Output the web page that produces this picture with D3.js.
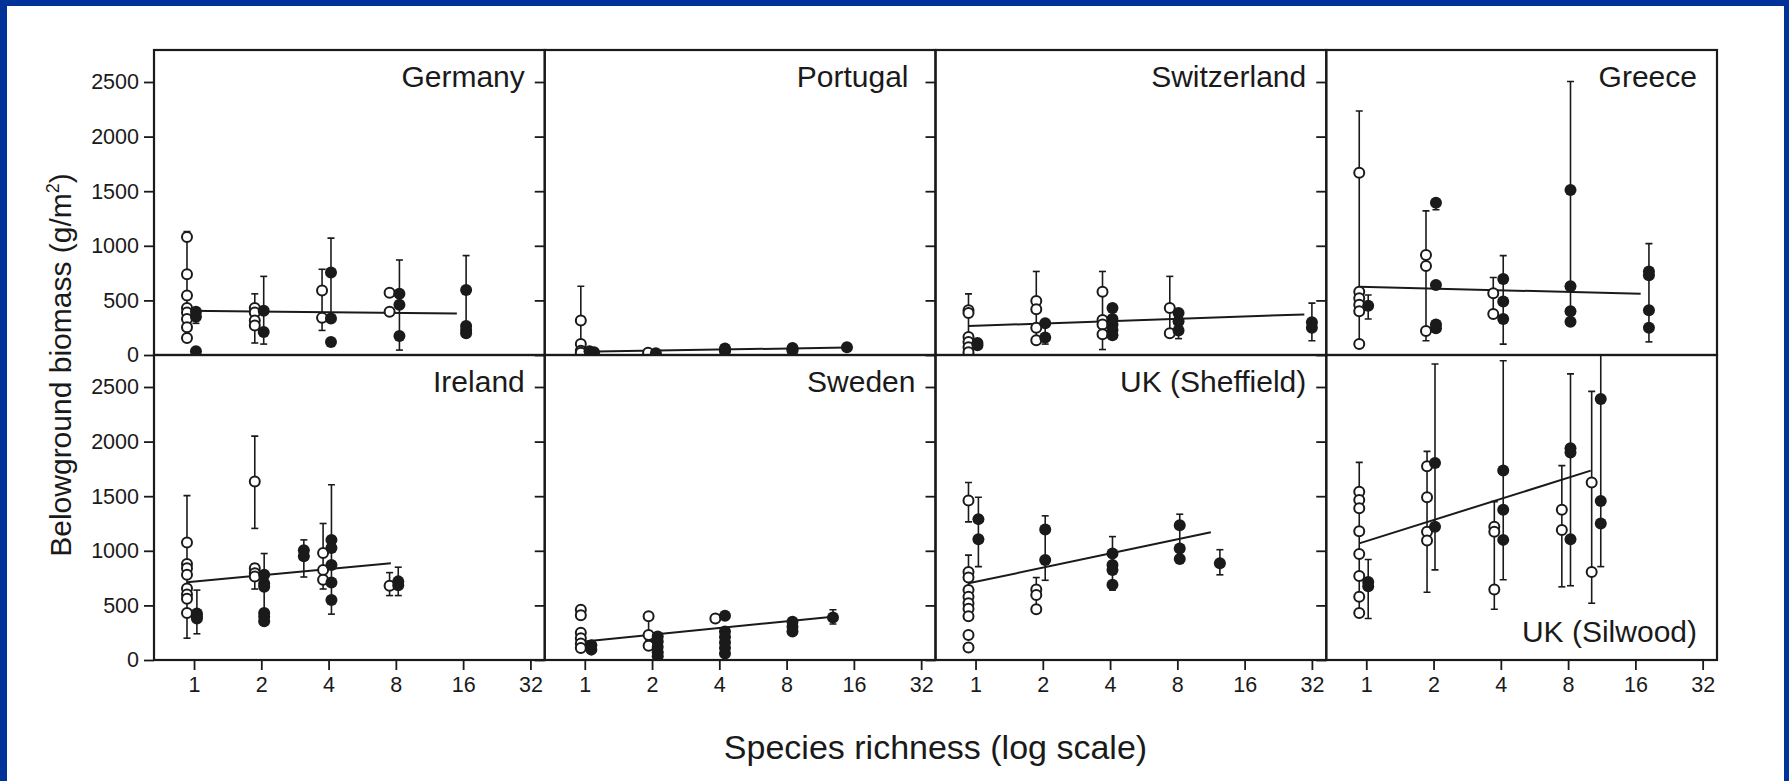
<!DOCTYPE html>
<html><head><meta charset="utf-8">
<script src="https://cdn.jsdelivr.net/npm/d3@7"></script>
<style>
body{margin:0;background:#003399;}
svg{display:block;}
text{font-family:"Liberation Sans",Arial,Helvetica,sans-serif;fill:#1a1a1a;}
</style>
</head><body>
<svg id="chart" width="1789" height="781"></svg>
<script>
// ---------- data ----------
const panelNames = ["Germany","Portugal","Switzerland","Greece","Ireland","Sweden","UK (Sheffield)","UK (Silwood)"];
const xTicks = [1,2,4,8,16,32];
const yTicks = [0,500,1000,1500,2000,2500];
const xTitle = "Species richness (log scale)";
const yTitle = "Belowground biomass (g/m";

// points: [species richness, biomass]; bars: [richness, low, high]; fit: regression line end points
const germanyOpen = [[0.93,1080],[0.93,740],[0.93,545],[0.93,430],[0.93,390],[0.93,330],[0.93,255],[0.93,155],
  [1.87,430],[1.87,390],[1.87,315],[1.87,270],[3.74,590],[3.74,340],[7.5,570],[7.5,395]];
const germanyFilled = [[1.02,395],[1.02,350],[1.02,35],[2.05,405],[2.05,210],[4.1,755],[4.1,335],[4.1,120],
  [8.3,560],[8.3,460],[8.3,175],[16.5,595],[16.5,265],[16.5,230],[16.5,200]];
const germanyBars = [[0.93,130,1130],[1.02,290,430],[1.87,110,560],[2.05,100,720],[3.74,225,785],[4.1,300,1070],[8.3,45,870],[16.5,180,910]];
const germanyFit = [[0.93,405],[15,380]];

const portugalOpen = [[0.96,315],[0.96,100],[0.96,40],[0.96,20],[1.92,20]];
const portugalFilled = [[1.05,35],[1.1,25],[2.08,15],[4.24,60],[4.24,45],[4.24,35],[8.5,65],[8.5,50],[8.5,40],[14.9,70]];
const portugalBars = [[0.96,10,630]];
const portugalFit = [[0.96,30],[14.9,68]];

const switzerlandOpen = [[0.93,410],[0.93,385],[0.93,165],[0.93,120],[0.93,70],[0.93,25],
  [1.87,495],[1.87,420],[1.87,250],[1.87,135],[3.7,580],[3.7,320],[3.7,280],[3.7,190],[7.4,430],[7.4,200]];
const switzerlandFilled = [[1.02,110],[1.02,90],[2.05,290],[2.05,160],[4.1,430],[4.1,330],[4.1,280],[4.1,230],[4.1,180],
  [8.1,385],[8.1,310],[8.1,225],[32,300],[32,250]];
const switzerlandBars = [[0.93,0,560],[1.87,130,765],[2.05,100,300],[3.7,50,765],[4.1,150,450],[7.4,180,720],[8.1,150,400],[32,130,475]];
const switzerlandFit = [[0.93,265],[29.6,372]];

const greeceOpen = [[0.93,1670],[0.93,580],[0.93,520],[0.93,460],[0.93,400],[0.93,100],
  [1.85,915],[1.85,815],[1.85,220],[3.7,565],[3.7,375]];
const greeceFilled = [[1.02,450],[2.05,1395],[2.05,640],[2.05,280],[2.05,245],[4.1,695],[4.1,490],[4.1,330],
  [8.2,1510],[8.2,630],[8.2,400],[8.2,305],[18.4,765],[18.4,730],[18.4,410],[18.4,250]];
const greeceBars = [[0.93,100,2235],[1.02,330,550],[1.85,130,1320],[2.05,1330,1420],[2.05,230,300],[3.7,350,710],[4.1,100,910],[8.2,300,2505],[18.4,120,1020]];
const greeceFit = [[0.93,626],[16.9,560]];

const irelandOpen = [[0.93,1075],[0.93,880],[0.93,840],[0.93,780],[0.93,655],[0.93,600],[0.93,560],[0.93,430],
  [1.87,1635],[1.87,840],[1.87,795],[1.87,765],[3.78,980],[3.78,825],[3.78,735],[7.5,680]];
const irelandFilled = [[1.03,425],[1.03,400],[1.03,380],[2.06,780],[2.06,700],[2.06,670],[2.06,430],[2.06,395],[2.06,355],
  [3.1,1005],[3.1,950],[4.12,1100],[4.12,1025],[4.12,870],[4.12,710],[4.12,550],[8.2,720],[8.2,685]];
const irelandBars = [[0.93,200,1505],[1.03,240,640],[1.87,1205,2050],[1.87,650,880],[2.06,330,975],[3.1,760,1100],
  [3.78,650,1250],[4.12,420,1605],[7.5,590,800],[8.2,590,850]];
const irelandFit = [[0.93,712],[7.6,885]];

const swedenOpen = [[0.96,460],[0.96,410],[0.96,250],[0.96,200],[0.96,150],[0.96,110],[1.93,400],[1.93,230],[1.93,130],[3.84,380]];
const swedenFilled = [[1.07,135],[1.07,95],[2.12,215],[2.12,170],[2.12,120],[2.12,70],[2.12,35],
  [4.24,405],[4.24,260],[4.24,210],[4.24,160],[4.24,110],[4.24,60],[8.5,350],[8.5,305],[8.5,260],[12.9,390]];
const swedenBars = [[1.93,180,420],[12.9,330,460]];
const swedenFit = [[0.97,168],[12.9,397]];

const sheffieldOpen = [[0.93,1460],[0.93,805],[0.93,755],[0.93,640],[0.93,580],[0.93,520],[0.93,470],[0.93,400],[0.93,230],[0.93,115],
  [1.87,645],[1.87,595],[1.87,465]];
const sheffieldFilled = [[1.03,1290],[1.03,1105],[2.05,1195],[2.05,915],[4.1,975],[4.1,870],[4.1,825],[4.1,690],
  [8.2,1235],[8.2,1020],[8.2,925],[12.4,885]];
const sheffieldBars = [[0.93,1265,1625],[0.93,600,960],[1.03,855,1490],[1.87,450,755],[2.05,730,1320],[4.1,640,1130],[8.2,900,1335],[12.4,780,1010]];
const sheffieldFit = [[0.93,702],[11.3,1170]];

const silwoodOpen = [[0.93,1540],[0.93,1465],[0.93,1390],[0.93,1180],[0.93,970],[0.93,770],[0.93,580],[0.93,430],
  [1.87,1775],[1.87,1490],[1.87,1175],[1.87,1095],[3.74,1220],[3.74,1175],[3.74,645],[7.5,1375],[7.5,1190],[10.2,1625],[10.2,805]];
const silwoodFilled = [[1.02,715],[1.02,675],[2.03,1805],[2.03,1220],[4.1,1735],[4.1,1375],[4.1,1100],
  [8.2,1940],[8.2,1900],[8.2,1105],[11.2,2390],[11.2,1455],[11.2,1250]];
const silwoodBars = [[0.93,400,1810],[1.02,380,920],[1.87,620,1910],[2.03,825,2710],[3.74,465,1450],[4.1,735,2740],
  [7.5,670,1780],[8.2,680,2620],[10.2,520,2460],[11.2,855,2800]];
const silwoodFit = [[0.93,1068],[10.1,1734]];

// ---------- assemble ----------
const panels = [
  {name:panelNames[0], open:germanyOpen, filled:germanyFilled, bars:germanyBars, fit:germanyFit},
  {name:panelNames[1], open:portugalOpen, filled:portugalFilled, bars:portugalBars, fit:portugalFit, labelPad:27},
  {name:panelNames[2], open:switzerlandOpen, filled:switzerlandFilled, bars:switzerlandBars, fit:switzerlandFit},
  {name:panelNames[3], open:greeceOpen, filled:greeceFilled, bars:greeceBars, fit:greeceFit},
  {name:panelNames[4], open:irelandOpen, filled:irelandFilled, bars:irelandBars, fit:irelandFit},
  {name:panelNames[5], open:swedenOpen, filled:swedenFilled, bars:swedenBars, fit:swedenFit},
  {name:panelNames[6], open:sheffieldOpen, filled:sheffieldFilled, bars:sheffieldBars, fit:sheffieldFit},
  {name:panelNames[7], open:silwoodOpen, filled:silwoodFilled, bars:silwoodBars, fit:silwoodFit, labelBottom:true}
];

const W = 1789, H = 781;
const gridLeft = 154, gridRight = 1717, gridTop = 50, gridBottom = 660;
const pw = (gridRight - gridLeft) / 4, ph = (gridBottom - gridTop) / 2;
const ink = "#1a1a1a";
const font = '"Liberation Sans",Arial,sans-serif';

const svg = d3.select("#chart");
svg.append("rect").attr("width", W).attr("height", H).attr("fill", "#003399");
svg.append("rect").attr("x", 7).attr("y", 6).attr("width", 1777).attr("height", H - 6).attr("fill", "#ffffff");

const defs = svg.append("defs");

panels.forEach((p, i) => {
  const col = i % 4, row = Math.floor(i / 4);
  const x0 = gridLeft + col * pw, y0 = gridTop + row * ph;
  const x = d3.scaleLog().base(2).domain([0.662, 37.1]).range([0, pw]);
  const y = d3.scaleLinear().domain([0, 2793]).range([ph, 0]);
  const g = svg.append("g").attr("transform", `translate(${x0},${y0})`);

  defs.append("clipPath").attr("id", "clip" + i)
    .append("rect").attr("x", 0).attr("y", 0).attr("width", pw).attr("height", ph);

  // y axis (ticks outward on every panel, labels only in first column)
  const ya = d3.axisLeft(y).tickValues(yTicks).tickSize(10).tickPadding(5)
    .tickFormat(col === 0 ? d3.format("d") : () => "");
  const yg = g.append("g").call(ya);
  yg.select(".domain").remove();
  yg.selectAll("line").attr("stroke", ink).attr("stroke-width", 1.8);
  yg.selectAll("text").attr("font-size", 21.5).attr("fill", ink).attr("font-family", font);

  // x axis only on bottom row
  if (row === 1) {
    const xa = d3.axisBottom(x).tickValues(xTicks).tickSize(10).tickPadding(7).tickFormat(d3.format("d"));
    const xg = g.append("g").attr("transform", `translate(0,${ph})`).call(xa);
    xg.select(".domain").remove();
    xg.selectAll("line").attr("stroke", ink).attr("stroke-width", 1.8);
    xg.selectAll("text").attr("font-size", 21.5).attr("fill", ink).attr("font-family", font);
  }

  const plot = g.append("g").attr("clip-path", `url(#clip${i})`);

  // regression line
  plot.append("path")
    .attr("d", d3.line().x(d => x(d[0])).y(d => y(d[1]))(p.fit))
    .attr("fill", "none").attr("stroke", ink).attr("stroke-width", 2);

  // error bars
  const eb = plot.append("g").attr("stroke", ink).attr("stroke-width", 1.6);
  p.bars.forEach(b => {
    const bx = x(b[0]);
    eb.append("line").attr("x1", bx).attr("x2", bx).attr("y1", y(b[1])).attr("y2", y(b[2]));
    eb.append("line").attr("x1", bx - 3.5).attr("x2", bx + 3.5).attr("y1", y(b[1])).attr("y2", y(b[1]));
    eb.append("line").attr("x1", bx - 3.5).attr("x2", bx + 3.5).attr("y1", y(b[2])).attr("y2", y(b[2]));
  });

  // open circles
  plot.append("g").selectAll("circle").data(p.open).join("circle")
    .attr("cx", d => x(d[0])).attr("cy", d => y(d[1])).attr("r", 5)
    .attr("fill", "#ffffff").attr("stroke", ink).attr("stroke-width", 2);
  // filled circles
  plot.append("g").selectAll("circle").data(p.filled).join("circle")
    .attr("cx", d => x(d[0])).attr("cy", d => y(d[1])).attr("r", 6)
    .attr("fill", ink);

  // frame
  g.append("rect").attr("x", 0).attr("y", 0).attr("width", pw).attr("height", ph)
    .attr("fill", "none").attr("stroke", ink).attr("stroke-width", 2.2);

  // panel label
  g.append("text")
    .attr("x", pw - (p.labelPad || 20))
    .attr("y", p.labelBottom ? ph - 18 : 37)
    .attr("text-anchor", "end").attr("font-size", 30)
    .text(p.name);
});

// axis titles
svg.append("text")
  .attr("x", (gridLeft + gridRight) / 2).attr("y", 759)
  .attr("text-anchor", "middle").attr("font-size", 34)
  .text(xTitle);

const yt = svg.append("text")
  .attr("transform", "translate(71,365) rotate(-90)")
  .attr("text-anchor", "middle").attr("font-size", 30);
yt.append("tspan").text(yTitle);
yt.append("tspan").attr("font-size", 18).attr("dy", -12).text("2");
yt.append("tspan").attr("dy", 12).text(")");
</script>
</body></html>
